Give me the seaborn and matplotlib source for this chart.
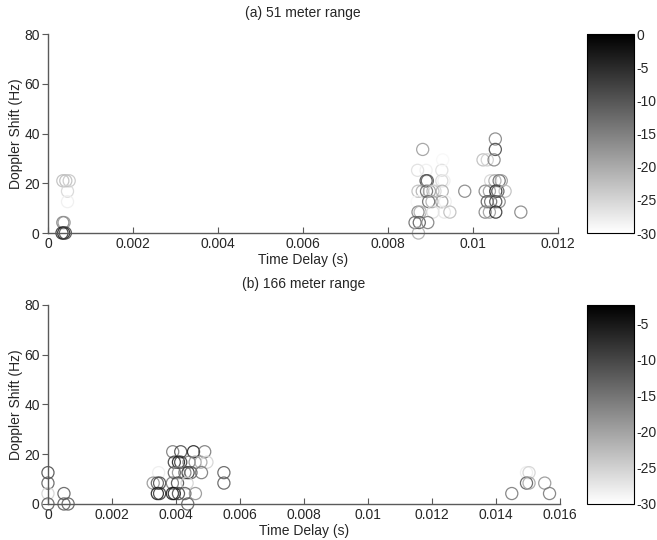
import numpy as np
import pandas as pd
import seaborn as sns
import matplotlib.pyplot as plt
from matplotlib.colors import Normalize
from matplotlib.cm import ScalarMappable

# (a) 51 meter range: time delay (s), doppler shift (Hz), level (dB)
a_delay = [0.00035, 0.00042, 0.0005, 0.00046, 0.00046, 0.00035, 0.00038, 0.00033, 0.00037, 0.00041,
           0.00882, 0.0087, 0.0089, 0.00927, 0.00929,
           0.0089, 0.00893, 0.00927, 0.00932,
           0.00871, 0.00881, 0.00891, 0.00898, 0.00906, 0.00911, 0.00928, 0.00981,
           0.00869, 0.00896, 0.00904, 0.00927, 0.00935,
           0.00871, 0.00876, 0.00906, 0.00933, 0.00946,
           0.00864, 0.00874, 0.00894, 0.00872,
           0.01053, 0.01053, 0.01024, 0.01034, 0.01050,
           0.01042, 0.01052, 0.01062, 0.01067,
           0.01029, 0.01039, 0.01054, 0.01059, 0.01076,
           0.01034, 0.01042, 0.01054, 0.01062,
           0.01029, 0.01039, 0.01054, 0.01113]
a_doppler = [21, 21, 21, 16.8, 12.6, 4.2, 4.2, 0, 0, 0,
             33.6, 25.2, 25.2, 25.2, 29.4,
             21, 21, 21, 21,
             16.8, 16.8, 16.8, 16.8, 16.8, 16.8, 16.8, 16.8,
             12.6, 12.6, 12.6, 12.6, 12.6,
             8.4, 8.4, 8.4, 8.4, 8.4,
             4.2, 4.2, 4.2, 0,
             37.8, 33.6, 29.4, 29.4, 29.4,
             21, 21, 21, 21,
             16.8, 16.8, 16.8, 16.8, 16.8,
             12.6, 12.6, 12.6, 12.6,
             8.4, 8.4, 8.4, 8.4]
a_level = [-22, -22, -23, -25, -28, -15, -17, -5, -3, -8,
           -18, -26, -28, -26, -29,
           -8, -10, -25, -28,
           -22, -20, -12, -18, -22, -25, -20, -15,
           -29, -12, -20, -18, -28,
           -15, -20, -26, -27, -22,
           -12, -10, -14, -20,
           -15, -8, -22, -24, -15,
           -25, -20, -12, -18,
           -15, -18, -5, -10, -22,
           -10, -12, -8, -15,
           -15, -18, -5, -15]

# (b) 166 meter range
b_delay = [0.0, 0.0, 0.0, 0.0, 0.0005, 0.0005, 0.00063,
           0.0039, 0.00415, 0.00455, 0.0049,
           0.00395, 0.00408, 0.00415, 0.00441, 0.0046, 0.00478, 0.00497,
           0.00346, 0.00395, 0.00408, 0.00428, 0.00438, 0.00447, 0.0048, 0.0055,
           0.00329, 0.00342, 0.00349, 0.00389, 0.00405, 0.00435, 0.0055,
           0.00342, 0.00349, 0.00389, 0.00395, 0.00408, 0.00428, 0.00461,
           0.00437,
           0.0145, 0.01496, 0.01504, 0.01496, 0.01504, 0.01553, 0.01568]
b_doppler = [12.6, 8.4, 4.2, 0, 4.2, 0, 0,
             21, 21, 21, 21,
             16.8, 16.8, 16.8, 16.8, 16.8, 16.8, 16.8,
             12.6, 12.6, 12.6, 12.6, 12.6, 12.6, 12.6, 12.6,
             8.4, 8.4, 8.4, 8.4, 8.4, 8.4, 8.4,
             4.2, 4.2, 4.2, 4.2, 4.2, 4.2, 4.2,
             0,
             4.2, 12.6, 12.6, 8.4, 8.4, 8.4, 4.2]
b_level = [-10, -12, -25, -12, -12, -12, -12,
           -15, -10, -5, -15,
           -8, -5, -8, -15, -18, -20, -25,
           -28, -12, -18, -15, -8, -12, -15, -12,
           -18, -12, -10, -15, -10, -25, -12,
           -5, -8, -5, -5, -10, -12, -18,
           -12,
           -15, -28, -25, -12, -20, -18, -15]

panels = [
    ("(a) 51 meter range", a_delay, a_doppler, a_level, 0.012, [0, 0.002, 0.004, 0.006, 0.008, 0.01, 0.012],
     ["0", "0.002", "0.004", "0.006", "0.008", "0.01", "0.012"], (-30, 0), [0, -5, -10, -15, -20, -25, -30]),
    ("(b) 166 meter range", b_delay, b_doppler, b_level, 0.016,
     [0, 0.002, 0.004, 0.006, 0.008, 0.01, 0.012, 0.014, 0.016],
     ["0", "0.002", "0.004", "0.006", "0.008", "0.01", "0.012", "0.014", "0.016"], (-30, -2.5),
     [-5, -10, -15, -20, -25, -30]),
]

sns.set_style("white")
plt.rcParams["font.family"] = ["Liberation Sans", "DejaVu Sans"]
plt.rcParams["font.size"] = 10

fig = plt.figure(figsize=(6.57, 5.40), dpi=100)
ax_rects = [[0.073, 0.5685, 0.776, 0.3685], [0.073, 0.0667, 0.779, 0.3685]]
cb_rects = [[0.893, 0.5685, 0.072, 0.3685], [0.893, 0.0667, 0.072, 0.3685]]
spine_col = "#5a5a5a"

for (title, xs, ys, lv, xmax, xt, xtl, clim, cticks), r, cr in zip(panels, ax_rects, cb_rects):
    ax = fig.add_axes(r)
    df = pd.DataFrame({"delay": xs, "doppler": ys, "level": lv})
    norm = Normalize(vmin=clim[0], vmax=clim[1])
    sns.scatterplot(data=df, x="delay", y="doppler", hue="level", palette="gray_r",
                    hue_norm=norm, s=76, marker="o", linewidth=0.9, legend=False,
                    clip_on=False, ax=ax)
    pts = ax.collections[-1]
    fc = pts.get_facecolors()
    pts.set_edgecolors(fc)
    pts.set_facecolors("none")
    pts.set_alpha(0.85)

    ax.set_xlim(0, xmax)
    ax.set_ylim(0, 80)
    ax.set_xticks(xt)
    ax.set_xticklabels(xtl)
    ax.set_yticks([0, 20, 40, 60, 80])
    ax.set_title(title, fontsize=10, pad=12)
    ax.set_xlabel("Time Delay (s)", fontsize=10, labelpad=1)
    ax.set_ylabel("Doppler Shift (Hz)", fontsize=10, labelpad=1)
    for side in ["top", "right"]:
        ax.spines[side].set_visible(False)
    for side in ["left", "bottom"]:
        ax.spines[side].set_color(spine_col)
        ax.spines[side].set_linewidth(1)
    ax.tick_params(axis="x", direction="in", length=4, color=spine_col, pad=3, labelsize=10)
    ax.tick_params(axis="y", direction="out", length=4, color=spine_col, pad=2, labelsize=10)
    ax.tick_params(left=True, bottom=True)

    cax = fig.add_axes(cr)
    sm = ScalarMappable(norm=norm, cmap="gray_r")
    cb = fig.colorbar(sm, cax=cax)
    cb.set_ticks(cticks)
    cb.set_ticklabels([str(t) for t in cticks])
    cb.outline.set_edgecolor("black")
    cb.outline.set_linewidth(0.8)
    cax.tick_params(direction="in", length=3, labelsize=10, pad=2)

fig.savefig("out.png", dpi=100)
